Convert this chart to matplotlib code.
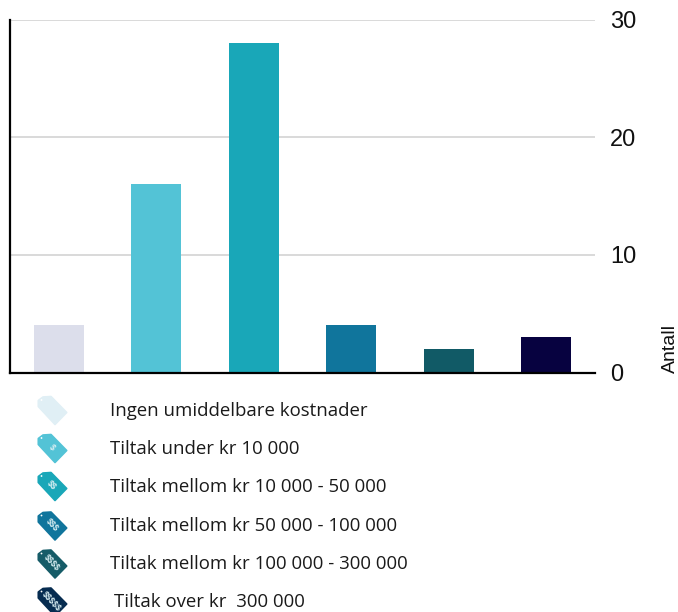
import matplotlib
matplotlib.use("Agg")
import matplotlib.pyplot as plt
from matplotlib.patches import Polygon, Circle

W, H = 678, 612

counts = [4, 16, 28, 4, 2, 3]
bar_colors = ["#dcdeeb", "#53c3d6", "#19a7b8", "#10759c", "#115a66", "#070240"]
tag_colors = ["#e0eff5", "#53c3d6", "#19a7b8", "#10759c", "#165c68", "#062c50"]
tag_signs = ["", "$", "$$", "$$$", "$$$$", "$$$$$"]
legend_labels = [
    "Ingen umiddelbare kostnader",
    "Tiltak under kr 10 000",
    "Tiltak mellom kr 10 000 - 50 000",
    "Tiltak mellom kr 50 000 - 100 000",
    "Tiltak mellom kr 100 000 - 300 000",
    "Tiltak over kr  300 000",
]
y_ticks = [0, 10, 20, 30]

plt.rcParams["font.family"] = ["Liberation Sans", "DejaVu Sans"]

fig = plt.figure(figsize=(W / 100, H / 100), dpi=100)

# main axes, pixel box x 10-595, y 19.5-372.5
ax = fig.add_axes([10 / W, 1 - 372.5 / H, 585 / W, 353 / H])
ax.bar(range(len(counts)), counts, width=0.512, color=bar_colors, zorder=2)
ax.set_xlim(-0.5, 5.5)
ax.set_ylim(0, 30)
ax.set_xticks([])
ax.set_yticks(y_ticks)
ax.yaxis.tick_right()
ax.tick_params(axis="y", length=0, pad=11, labelsize=17, labelcolor="#111111")
ax.grid(axis="y", color="#cfcfcf", linewidth=1.1, zorder=1)
ax.set_axisbelow(True)
for name in ["top", "right"]:
    ax.spines[name].set_visible(False)
ax.spines["left"].set_linewidth(1.6)
ax.spines["bottom"].set_linewidth(1.6)
ax.spines["left"].set_zorder(3)
ax.spines["bottom"].set_zorder(3)

fig.text(670 / W, 1 - 373 / H, "Antall", rotation=90, ha="center", va="bottom",
         fontsize=14, color="#111111")

# price tags and labels below the bars, drawn in pixel coordinates
over = fig.add_axes([0, 0, 1, 1])
over.set_xlim(0, W)
over.set_ylim(H, 0)
over.axis("off")

tag_shape = [(38.3, 4), (43, 0.5), (51, 0), (66.7, 16), (55, 28), (38.3, 10)]
tag_tops = [396.5, 434.5, 472.5, 512, 550, 588]
label_rows = [411, 449, 487, 526, 564, 602]
label_lefts = [110, 110, 110, 110, 110, 114]

for i, label in enumerate(legend_labels):
    top = tag_tops[i]
    points = [(x, top + y) for x, y in tag_shape]
    over.add_patch(Polygon(points, closed=True, facecolor=tag_colors[i],
                           edgecolor=tag_colors[i], linewidth=1.2, joinstyle="round"))
    over.add_patch(Circle((41.5, top + 3.5), 0.9, facecolor="white", edgecolor="none"))
    if tag_signs[i]:
        # parse_math off so the dollar signs stay literal
        over.text(52, top + 13, tag_signs[i], rotation=-47, rotation_mode="anchor",
                  ha="center", va="center", fontsize=6.2, fontweight="bold",
                  color="#d8eef2", family=["Liberation Sans"], parse_math=False)
    over.text(label_lefts[i], label_rows[i], label, ha="left", va="center",
              fontsize=13.4, color="#1a1a1a", family=["Open Sans", "DejaVu Sans"])

fig.savefig("out.png", dpi=100)
